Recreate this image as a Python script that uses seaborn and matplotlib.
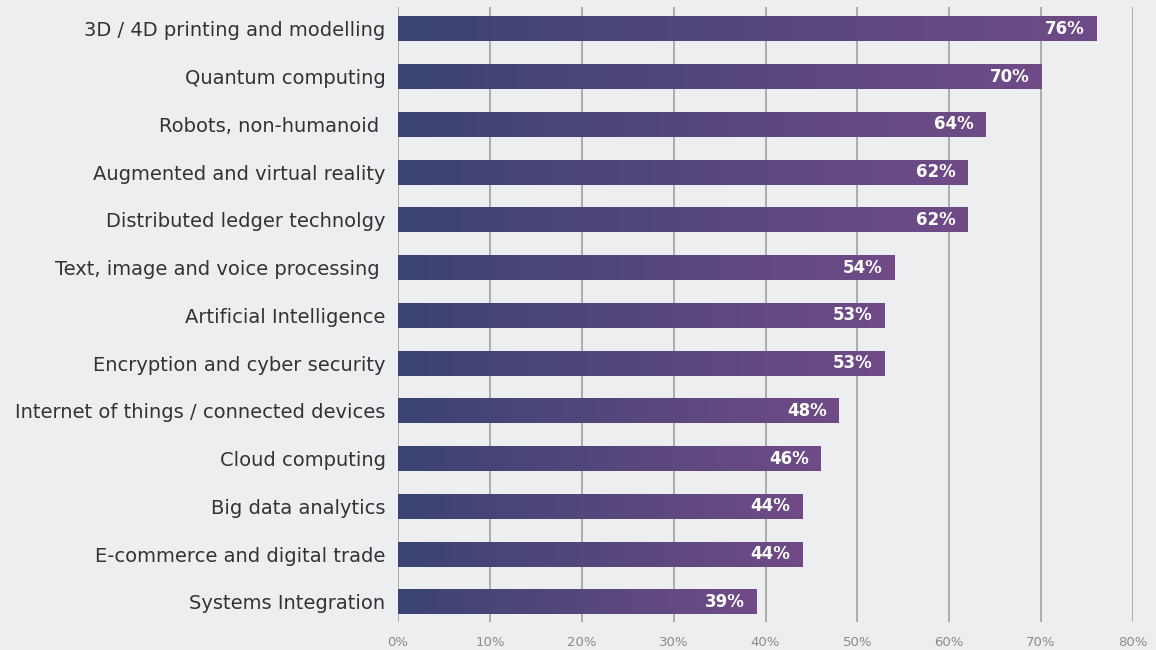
import numpy as np
import pandas as pd
import matplotlib
matplotlib.use("Agg")
import matplotlib.pyplot as plt
from matplotlib.colors import LinearSegmentedColormap
import seaborn as sns

categories = [
    "3D / 4D printing and modelling",
    "Quantum computing",
    "Robots, non-humanoid ",
    "Augmented and virtual reality",
    "Distributed ledger technolgy",
    "Text, image and voice processing ",
    "Artificial Intelligence",
    "Encryption and cyber security",
    "Internet of things / connected devices",
    "Cloud computing",
    "Big data analytics",
    "E-commerce and digital trade",
    "Systems Integration",
]
values = [76, 70, 64, 62, 62, 54, 53, 53, 48, 46, 44, 44, 39]
tick_values = [0, 10, 20, 30, 40, 50, 60, 70, 80]
tick_labels = [f"{t}%" for t in tick_values]

BG = "#eceef0"
sns.set_theme(style="white")
plt.rcParams["font.family"] = ["DejaVu Sans"]

df = pd.DataFrame({"tech": categories, "share": values})

fig = plt.figure(figsize=(11.56, 6.5), dpi=100, facecolor=BG)
ax = fig.add_axes([0.3443, 0.0431, 0.9801 - 0.3443, 0.9892 - 0.0431])
ax.set_facecolor(BG)

sns.barplot(data=df, x="share", y="tech", orient="h", width=0.52,
            color="#55457a", ax=ax, zorder=3)

ax.set_xticks(tick_values)
ax.set_xticklabels(tick_labels, color="#8a8a8a", fontsize=9.5)
ax.tick_params(axis="x", length=0, pad=10)
ax.tick_params(axis="y", length=0, pad=9, labelsize=14, labelcolor="#333333")
ax.set_xlabel("")
ax.set_ylabel("")
for s in ax.spines.values():
    s.set_visible(False)
for t in tick_values:
    ax.axvline(t, color="#a0a0a0", lw=1.2, zorder=1)

# Per-bar horizontal gradient from navy to purple
cmap = LinearSegmentedColormap.from_list("bar", ["#3a4372", "#704b87"])
grad = np.linspace(0, 1, 256).reshape(1, -1)
for patch, v in zip(ax.patches, values):
    x0, y0 = patch.get_x(), patch.get_y()
    w, h = patch.get_width(), patch.get_height()
    ax.imshow(grad, cmap=cmap, aspect="auto", extent=(x0, x0 + w, y0 + h, y0),
              zorder=3, interpolation="bicubic")
    patch.set_visible(False)
    ax.text(x0 + w - 1.3, y0 + h / 2, f"{v}%", ha="right", va="center",
            color="white", fontsize=12, fontweight="bold", zorder=4)

ax.set_xlim(0, 80)
ax.set_ylim(len(categories) - 1 + 0.42, -0.46)

fig.savefig("out.png", dpi=100, facecolor=BG)
